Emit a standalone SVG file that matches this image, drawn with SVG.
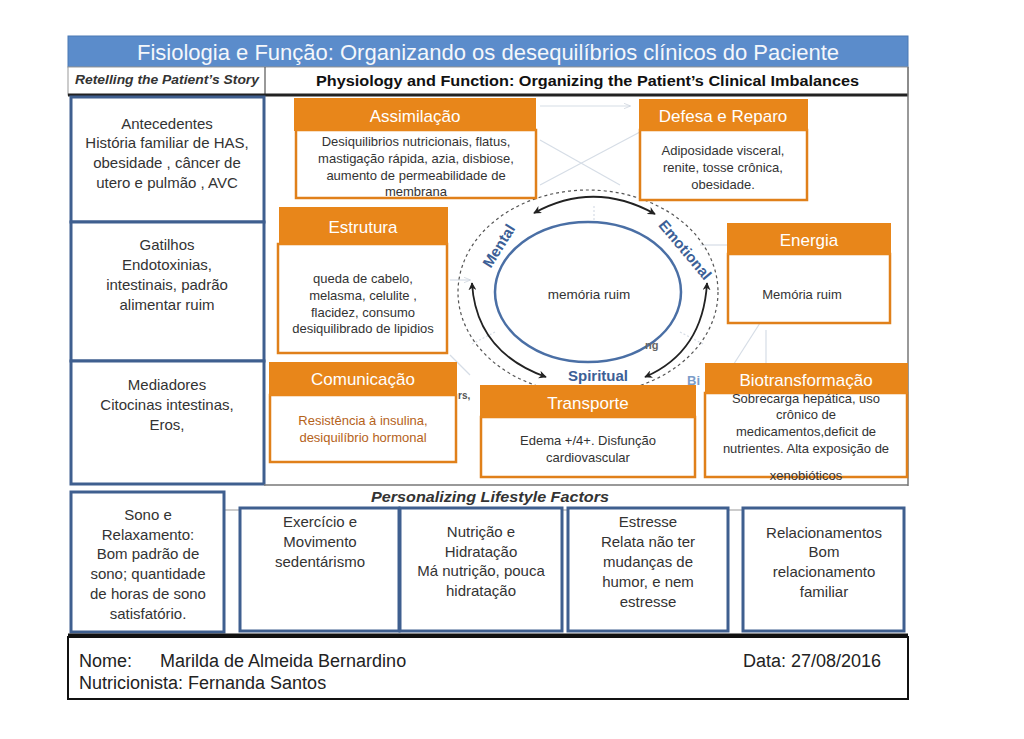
<svg xmlns="http://www.w3.org/2000/svg" width="1024" height="739" viewBox="0 0 1024 739">
<defs>
<marker id="ah" viewBox="0 0 10 10" refX="9" refY="5" markerWidth="8" markerHeight="8" orient="auto-start-reverse" markerUnits="userSpaceOnUse">
<path d="M0,0 L10,5 L0,10 L3,5 Z" fill="#222"/>
</marker>
<marker id="fa" viewBox="0 0 10 10" refX="9" refY="5" markerWidth="7" markerHeight="7" orient="auto" markerUnits="userSpaceOnUse">
<path d="M0,1 L10,5 L0,9" fill="none" stroke="#c8d0da"/>
</marker>
</defs>
<style>
text{font-family:"Liberation Sans",Arial,sans-serif;fill:#333;}
.lb{fill:#fff;stroke:#3f5f8f;stroke-width:3;}
.lt{font-size:15px;text-anchor:middle;fill:#333;}
.oh{fill:#e8861a;}
.ob{fill:#fff;stroke:#e0801a;stroke-width:2.5;}
.ht{font-size:17px;fill:#fff;text-anchor:middle;}
.bt{font-size:13px;text-anchor:middle;fill:#333;}
.fs{font-size:15px;text-anchor:middle;fill:#333;}
.bl{font-weight:bold;fill:#3c5f96;}
.faint{stroke:#d6dde6;stroke-width:1.2;fill:none;}
.ft{font-size:18px;fill:#222;}
</style>
<rect width="1024" height="739" fill="#fff"/>

<!-- title -->
<g id="title">
<rect x="68" y="36" width="840" height="31" fill="#5b8ccb" stroke="#4a78b3" stroke-width="1"/>
<text x="488" y="60" font-size="22" text-anchor="middle" style="fill:#f4f7fb">Fisiologia e Função: Organizando os desequilíbrios clínicos do Paciente</text>
</g>
<g id="subheader">
<rect x="68" y="67" width="840" height="28" fill="#fff" stroke="#999" stroke-width="1"/>
<line x1="265" y1="67" x2="265" y2="95" stroke="#555" stroke-width="1.2"/>
<text x="75" y="84" font-size="12" font-weight="bold" font-style="italic" textLength="184" lengthAdjust="spacingAndGlyphs">Retelling the Patient’s Story</text>
<text x="316" y="86" font-size="14" font-weight="bold" style="fill:#111" textLength="543" lengthAdjust="spacingAndGlyphs">Physiology and Function: Organizing the Patient’s Clinical Imbalances</text>
<line x1="68" y1="95" x2="908" y2="95" stroke="#222" stroke-width="3"/>
<line x1="908" y1="67" x2="908" y2="486" stroke="#777" stroke-width="1.5"/>
</g>

<!-- faint background connectors and circle -->
<g id="connectors">
<line class="faint" x1="540" y1="106" x2="630" y2="106" marker-end="url(#fa)"/>
<line class="faint" x1="540" y1="185" x2="640" y2="132"/>
<line class="faint" x1="540" y1="140" x2="620" y2="185"/>
<line class="faint" x1="450" y1="280" x2="470" y2="280" marker-end="url(#fa)"/>
<line class="faint" x1="700" y1="245" x2="728" y2="245"/>
<line class="faint" x1="760" y1="323" x2="730" y2="370"/>
<line class="faint" x1="766" y1="330" x2="766" y2="365"/>
<line class="faint" x1="450" y1="355" x2="470" y2="375"/>
<line class="faint" x1="594" y1="206" x2="594" y2="222" stroke-dasharray="2,2"/>
<line class="faint" x1="495" y1="332" x2="470" y2="345" stroke-dasharray="2,2"/>
<line class="faint" x1="680" y1="332" x2="705" y2="345" stroke-dasharray="2,2"/>
<ellipse cx="588" cy="292" rx="130" ry="102" fill="none" stroke="#555" stroke-width="1.2" stroke-dasharray="3,3"/>
<ellipse cx="588" cy="292" rx="93" ry="70" fill="#fff" stroke="#4a6fa5" stroke-width="2.5"/>
<path d="M534 213 Q594 180 655 214" fill="none" stroke="#222" stroke-width="1.8" marker-start="url(#ah)" marker-end="url(#ah)"/>
<path d="M472 283 Q476 352 546 377" fill="none" stroke="#222" stroke-width="1.8" marker-start="url(#ah)" marker-end="url(#ah)"/>
<path d="M707 283 Q703 352 645 377" fill="none" stroke="#222" stroke-width="1.8" marker-start="url(#ah)" marker-end="url(#ah)"/>
<text class="bl" x="499" y="251" font-size="15" text-anchor="middle" transform="rotate(-58 499 246)">Mental</text>
<text class="bl" x="685" y="255" font-size="15" text-anchor="middle" transform="rotate(50 685 250)">Emotional</text>
<text class="bl" x="598" y="381" font-size="15" text-anchor="middle">Spiritual</text>
<text x="687" y="385" font-size="13" font-weight="bold" style="fill:#7a9cc8">Bi</text>
<text x="458" y="399" font-size="10" font-weight="bold" style="fill:#555">rs,</text>
<text x="645" y="349" font-size="11" font-weight="bold" style="fill:#666">ng</text>
<text x="589" y="299" font-size="13.5" text-anchor="middle">memória ruim</text>
</g>

<!-- left column -->
<g id="antecedentes">
<rect class="lb" x="71" y="97" width="193" height="125"/>
<text class="lt" x="167" y="129">Antecedentes</text>
<text class="lt" x="167" y="148">História familiar de HAS,</text>
<text class="lt" x="167" y="168">obesidade , câncer de</text>
<text class="lt" x="167" y="188">utero e pulmão , AVC</text>
</g>
<g id="gatilhos">
<rect class="lb" x="71" y="222" width="193" height="139"/>
<text class="lt" x="167" y="250">Gatilhos</text>
<text class="lt" x="167" y="270">Endotoxinias,</text>
<text class="lt" x="167" y="290">intestinais, padrão</text>
<text class="lt" x="167" y="310">alimentar ruim</text>
</g>
<g id="mediadores">
<rect class="lb" x="71" y="361" width="193" height="123"/>
<text class="lt" x="167" y="390">Mediadores</text>
<text class="lt" x="167" y="410">Citocinas intestinas,</text>
<text class="lt" x="167" y="430">Eros,</text>
</g>

<!-- orange nodes -->
<g id="assimilacao">
<rect class="ob" x="296" y="130" width="240" height="68"/>
<rect class="oh" x="294" y="98" width="242" height="33"/>
<text class="ht" x="415" y="122">Assimilação</text>
<text class="bt" x="416" y="146">Desiquilibrios nutricionais, flatus,</text>
<text class="bt" x="416" y="163">mastigação rápida, azia,  disbiose,</text>
<text class="bt" x="416" y="180">aumento de permeabilidade de</text>
<text class="bt" x="416" y="196">membrana</text>
</g>
<g id="defesa">
<rect class="ob" x="640" y="130" width="167" height="70"/>
<rect class="oh" x="639" y="99" width="169" height="32"/>
<text class="ht" x="723" y="122">Defesa e Reparo</text>
<text class="bt" x="723" y="155" font-size="12.7">Adiposidade visceral,</text>
<text class="bt" x="723" y="172" font-size="12.7">renite, tosse crônica,</text>
<text class="bt" x="723" y="189" font-size="12.7">obesidade.</text>
</g>
<g id="estrutura">
<rect class="ob" x="278" y="244" width="169" height="109"/>
<rect class="oh" x="279" y="207" width="169" height="38"/>
<text class="ht" x="363" y="233">Estrutura</text>
<text class="bt" x="363" y="283" font-size="13.2">queda de cabelo,</text>
<text class="bt" x="363" y="300" font-size="13.2">melasma, celulite ,</text>
<text class="bt" x="363" y="317" font-size="13.2">flacidez, consumo</text>
<text class="bt" x="363" y="333" font-size="13.2">desiquilibrado de lipidios</text>
</g>
<g id="energia">
<rect class="ob" x="728" y="254" width="162" height="69"/>
<rect class="oh" x="727" y="223" width="164" height="32"/>
<text class="ht" x="809" y="246">Energia</text>
<text class="bt" x="802" y="299" font-size="13.5">Memória ruim</text>
</g>
<g id="comunicacao">
<rect class="ob" x="270" y="395" width="186" height="67"/>
<rect class="oh" x="269" y="362" width="188" height="34"/>
<text class="ht" x="363" y="385">Comunicação</text>
<text class="bt" x="363" y="425" font-size="12.7" style="fill:#b5621a">Resistência à insulina,</text>
<text class="bt" x="363" y="442" font-size="12.7" style="fill:#b5621a">desiquilíbrio hormonal</text>
</g>
<g id="transporte">
<rect class="ob" x="481" y="417" width="214" height="60"/>
<rect class="oh" x="480" y="385" width="216" height="33"/>
<text class="ht" x="588" y="409">Transporte</text>
<text class="bt" x="588" y="445" font-size="13.5">Edema +/4+. Disfunção</text>
<text class="bt" x="588" y="462" font-size="13.5">cardiovascular</text>
</g>
<g id="biotransformacao">
<rect class="ob" x="705" y="393" width="202" height="84"/>
<rect class="oh" x="705" y="363" width="203" height="31"/>
<text class="ht" x="806" y="386">Biotransformação</text>
<text class="bt" x="806" y="403" font-size="13.8">Sobrecarga hepática, uso</text>
<text class="bt" x="806" y="419" font-size="13.8">crônico de</text>
<text class="bt" x="806" y="436" font-size="13.8">medicamentos,deficit de</text>
<text class="bt" x="806" y="453" font-size="13.8">nutrientes. Alta exposição de</text>
<text class="bt" x="806" y="480" font-size="13.8">xenobióticos</text>
</g>

<!-- lifestyle -->
<g id="lifestyle-header">
<line x1="264" y1="485" x2="908" y2="485" stroke="#777" stroke-width="1.5"/>
<line x1="224" y1="510" x2="905" y2="510" stroke="#999" stroke-width="1"/>
<text x="371" y="502" font-size="14" font-weight="bold" font-style="italic" textLength="238" lengthAdjust="spacingAndGlyphs">Personalizing Lifestyle Factors</text>
</g>
<g id="sono">
<rect class="lb" x="71" y="492" width="153" height="140"/>
<text class="fs" x="148" y="520">Sono e</text>
<text class="fs" x="148" y="540">Relaxamento:</text>
<text class="fs" x="148" y="559">Bom padrão de</text>
<text class="fs" x="148" y="579">sono; quantidade</text>
<text class="fs" x="148" y="599">de horas de sono</text>
<text class="fs" x="148" y="619">satisfatório.</text>
</g>
<g id="exercicio">
<rect class="lb" x="240" y="508" width="159" height="123"/>
<text class="fs" x="320" y="527">Exercício e</text>
<text class="fs" x="320" y="547">Movimento</text>
<text class="fs" x="320" y="567">sedentárismo</text>
</g>
<g id="nutricao">
<rect class="lb" x="400" y="508" width="162" height="123"/>
<text class="fs" x="481" y="537">Nutrição e</text>
<text class="fs" x="481" y="557">Hidratação</text>
<text class="fs" x="481" y="576">Má nutrição, pouca</text>
<text class="fs" x="481" y="596">hidratação</text>
</g>
<g id="estresse">
<rect class="lb" x="568" y="508" width="160" height="123"/>
<text class="fs" x="648" y="527">Estresse</text>
<text class="fs" x="648" y="547">Relata não ter</text>
<text class="fs" x="648" y="567">mudanças de</text>
<text class="fs" x="648" y="587">humor, e nem</text>
<text class="fs" x="648" y="607">estresse</text>
</g>
<g id="relacionamentos">
<rect class="lb" x="743" y="508" width="161" height="123"/>
<text class="fs" x="824" y="538">Relacionamentos</text>
<text class="fs" x="824" y="557">Bom</text>
<text class="fs" x="824" y="577">relacionamento</text>
<text class="fs" x="824" y="597">familiar</text>
</g>

<!-- footer -->
<g id="footer">
<line x1="68" y1="635" x2="908" y2="635" stroke="#111" stroke-width="3"/>
<rect x="68" y="637" width="840" height="62" fill="#fff" stroke="#111" stroke-width="2"/>
<text class="ft" x="79" y="667">Nome:</text>
<text class="ft" x="160" y="667">Marilda de Almeida Bernardino</text>
<text class="ft" x="743" y="667">Data: 27/08/2016</text>
<text class="ft" x="79" y="689">Nutricionista: Fernanda Santos</text>
</g>
</svg>
